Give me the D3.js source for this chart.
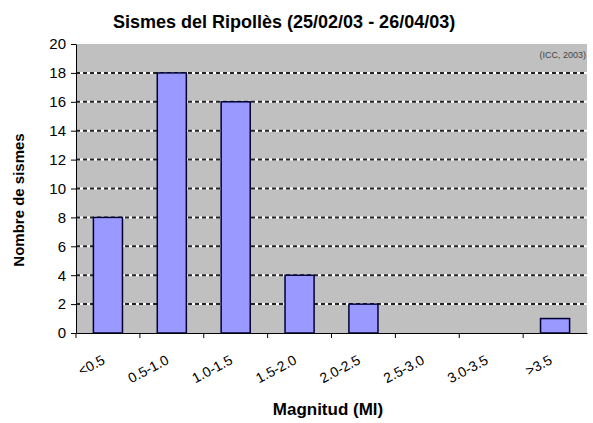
<!DOCTYPE html>
<html><head><meta charset="utf-8">
<script src="https://cdn.jsdelivr.net/npm/d3@7"></script>
<style>body{margin:0;background:#fff}svg{display:block;font-family:"Liberation Sans",Arial,sans-serif}</style>
</head><body>
<script>
const categories = ["<0.5","0.5-1.0","1.0-1.5","1.5-2.0","2.0-2.5","2.5-3.0","3.0-3.5",">3.5"];
const values = [8,18,16,4,2,0,0,1];
const yTicks = [0,2,4,6,8,10,12,14,16,18,20];
const title = "Sismes del Ripollès (25/02/03 - 26/04/03)";
const xTitle = "Magnitud (Ml)";
const yTitle = "Nombre de sismes";
const note = "(ICC, 2003)";

const W = 593, H = 423;
const m = {left:76, right:6, top:44, bottom:90};
const svg = d3.select("body").append("svg").attr("width",W).attr("height",H);
const x = d3.scaleBand().domain(categories).range([m.left, W-m.right]).paddingInner(0.545).paddingOuter(0.2725);
const xb = d3.scaleBand().domain(categories).range([m.left, W-m.right]);
const y = d3.scaleLinear().domain([0,20]).range([H-m.bottom, m.top]);

svg.append("rect").attr("x",m.left).attr("y",m.top).attr("width",W-m.right-m.left).attr("height",y(0)-m.top).attr("fill","#c0c0c0");

const grid = svg.append("g");
yTicks.filter(d=>d>0 && d<20).forEach(d=>{
  grid.append("line").attr("x1",m.left).attr("x2",W-m.right).attr("y1",y(d)).attr("y2",y(d)).attr("stroke","#fff").attr("stroke-width",2);
  grid.append("line").attr("x1",m.left).attr("x2",W-m.right).attr("y1",y(d)).attr("y2",y(d)).attr("stroke","#222").attr("stroke-width",2).attr("stroke-dasharray","4,3");
});

svg.append("g").selectAll("rect").data(values).join("rect")
  .attr("x",(d,i)=>x(categories[i])).attr("width",x.bandwidth())
  .attr("y",d=>y(d)).attr("height",d=>y(0)-y(d))
  .attr("fill","#9999ff").attr("stroke","#000033").attr("stroke-width",1.5)
  .style("display",d=>d>0?null:"none");

const ya = svg.append("g").attr("transform",`translate(${m.left},0)`)
  .call(d3.axisLeft(y).tickValues(yTicks).tickSize(5).tickSizeOuter(0).tickPadding(5));
ya.selectAll("text").attr("font-size",15).attr("fill","#000").attr("font-family","Liberation Sans, Arial");
ya.select(".domain").attr("stroke","#000");

const xa = svg.append("g").attr("transform",`translate(0,${y(0)})`)
  .call(d3.axisBottom(xb).tickValues([]).tickSizeOuter(0));
xa.select(".domain").attr("stroke","#000");
const edges = categories.map(c=>xb(c)).concat([W-m.right]);
xa.selectAll("line.tk").data(edges.slice(0,8)).join("line").attr("class","tk")
  .attr("x1",d=>d).attr("x2",d=>d).attr("y1",0).attr("y2",5).attr("stroke","#000");
xa.selectAll("text.lb").data(categories).join("text").attr("class","lb")
  .attr("transform",d=>`translate(${xb(d)+xb.bandwidth()/2-2},${30}) rotate(-28)`)
  .attr("text-anchor","end").attr("font-size",14).attr("fill","#000").text(d=>d);

svg.append("text").attr("x",113).attr("y",28).attr("font-size",18).attr("font-weight","bold").text(title);
svg.append("text").attr("x",328).attr("y",415).attr("text-anchor","middle").attr("font-size",17).attr("font-weight","bold").text(xTitle);
svg.append("text").attr("transform",`translate(24,200) rotate(-90)`).attr("text-anchor","middle").attr("font-size",15).attr("font-weight","bold").text(yTitle);
svg.append("text").attr("x",586).attr("y",58).attr("text-anchor","end").attr("font-size",9).attr("fill","#444").text(note);
</script>
</body></html>
